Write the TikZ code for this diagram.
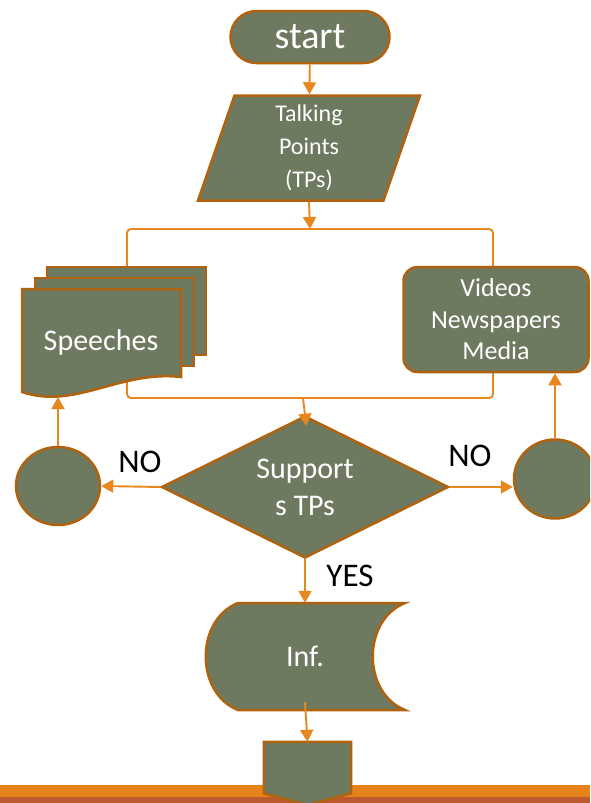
\documentclass[tikz,border=0pt]{standalone}
\usepackage{fontspec}
\setmainfont{Carlito}
\usetikzlibrary{arrows.meta,positioning,calc,shapes.geometric}
\definecolor{boxfill}{HTML}{6D7A5F}
\definecolor{boxline}{HTML}{B0620F}
\definecolor{wire}{HTML}{E8871E}
\definecolor{barorange}{HTML}{E5831A}
\definecolor{barbrown}{HTML}{BC5A2D}
\tikzset{
    block/.style={draw=boxline,fill=boxfill,line width=2.5pt,text=white,align=center,inner sep=0pt},
    link/.style={draw=wire,line width=1.9pt,rounded corners=4pt},
    arrow/.style={-{Triangle[length=12pt,width=13pt]},draw=wire,fill=wire,line width=1.9pt},
    lbl/.style={font=\fontsize{33}{35}\selectfont}
}

\begin{document}
\begin{tikzpicture}[x=1pt,y=-1pt]
    \useasboundingbox (0,0) rectangle (590,803);
    \clip (0,0) rectangle (590,803);

    % footer bars
    \fill[barorange] (0,785) rectangle (590,797);
    \fill[barbrown] (0,797) rectangle (590,803);

    % start and input
    \node[block,rounded corners=26pt,minimum width=159pt,minimum height=52pt,font=\fontsize{38}{40}\selectfont] (start) at (310,37) {start};
    \node[block,trapezium,trapezium left angle=67,trapezium right angle=113,trapezium stretches body,
          minimum width=222pt,minimum height=105pt,font=\fontsize{24}{33}\selectfont] (tp) at (309,148) {Talking\\Points\\(TPs)};
    \draw[arrow] (start) -- (tp);

    % split and merge lines
    \coordinate (split) at (310,229);
    \coordinate (merge) at (303,398);
    \coordinate (stacktop) at (127,267);
    \coordinate (stackbot) at (127,376);
    \draw[link] (stacktop) |- (split) -| (493,267);
    \draw[link] (stackbot) |- (merge) -| (493,372);
    \draw[arrow] (tp.south) -- (split);

    % speeches (stacked documents)
    \foreach \dx/\dy in {25/22,13/11} {\draw[block] (22+\dx,289-\dy) rectangle ++(159,88);}
    \draw[block] (22,289) -- (181,289) -- (181,377) .. controls (120,370) and (75,410) .. (22,392) -- cycle;
    \node[text=white,font=\fontsize{30}{32}\selectfont] (spch) at (101,342) {Speeches};
    \coordinate (spbot) at (58,397);

    % media
    \node[block,rounded corners=14pt,minimum width=185pt,minimum height=105pt,font=\fontsize{26}{31.5}\selectfont] (media) at (496,319.5) {Videos\\Newspapers\\Media};

    % decision
    \node[block,diamond,aspect=2,minimum width=287pt,minimum height=142pt,font=\fontsize{30}{37}\selectfont] (dec) at (305,487) {Support\\s TPs};
    \draw[arrow,shorten >=-11pt] (merge) -- (dec.north);

    \node[block,ellipse,minimum width=84pt,minimum height=78pt] (lc) at (58,486) {};
    \node[block,ellipse,minimum width=82pt,minimum height=79pt] (rc) at (555,479) {};
    \draw[arrow] (dec.west) -- (lc.east);
    \draw[arrow] (dec.east) -- (dec.east -| rc.west);
    \draw[arrow] (lc.north) -- (spbot);
    \draw[arrow] (rc.north) -- (rc.north |- media.south);
    \node[lbl] (no1) at (140,462) {NO};
    \node[lbl] (no2) at (470,456) {NO};

    % stored information
    \draw[block] (238,603) -- (405,603) .. controls (362,620) and (362,693) .. (405,710) -- (238,710)
        .. controls (195,693) and (195,620) .. (238,603) -- cycle;
    \node[text=white,minimum width=200pt,minimum height=107pt,inner sep=0pt,font=\fontsize{30}{30}\selectfont] (inf) at (305,656.5) {Inf.};
    \draw[arrow] (dec.south) -- (inf.north);
    \node[lbl] (yes) at (350,576) {YES};

    % off-page connector
    \node[minimum width=87pt,minimum height=51pt,inner sep=0pt] (off) at (307.5,767.5) {};
    \draw[block] (off.north west) -- (off.north east) -- (off.south east) -- ($(off.south)+(0,12)$) -- (off.south west) -- cycle;
    \draw[arrow] ($(inf.south)+(0,-8)$) -- (off.north);
\end{tikzpicture}
\end{document}
